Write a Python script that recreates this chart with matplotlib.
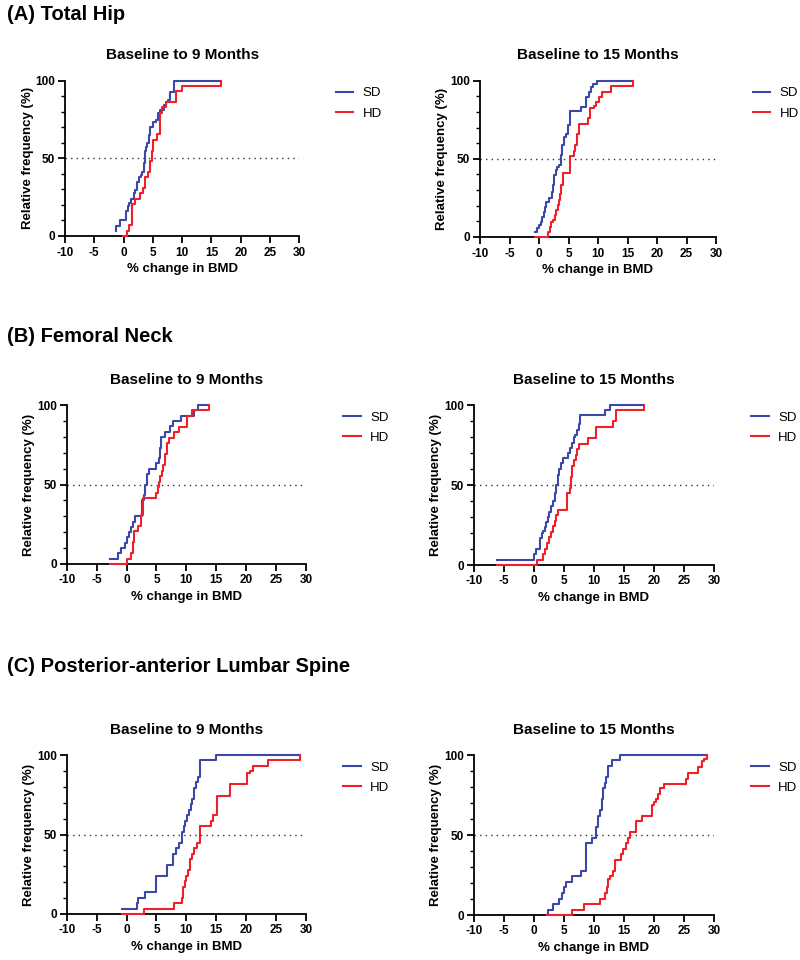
import matplotlib
matplotlib.use('Agg')
import matplotlib.pyplot as plt
from matplotlib.ticker import MultipleLocator

plt.rcParams['font.family'] = ['Liberation Sans', 'DejaVu Sans']

# ---------------- data (cumulative relative frequency, %) ----------------
groups = ['SD', 'HD']
section_titles = ['(A) Total Hip', '(B) Femoral Neck', '(C) Posterior-anterior Lumbar Spine']
panel_titles = ['Baseline to 9 Months', 'Baseline to 15 Months']
x_ticks = [-10, -5, 0, 5, 10, 15, 20, 25, 30]
x_tick_labels = ['-10', '-5', '0', '5', '10', '15', '20', '25', '30']
y_ticks = [0, 50, 100]
y_tick_labels = ['0', '50', '100']

# (A) Total Hip, 9 months
a9_sd_x = [-1.35, -1.25, -0.6, 0.45, 0.75, 1.0, 1.3, 1.75, 2.0, 2.35, 2.6, 2.9, 3.2, 3.45, 3.6, 3.85, 4.05, 4.3,
           4.55, 5.0, 5.55, 5.85, 6.25, 6.9, 7.25, 7.55, 7.95, 8.6, 16.6]
a9_sd_y = [3.3, 6.7, 10, 16, 19, 21, 24, 27.5, 29.6, 35, 38, 39.5, 41.5, 47, 54.5, 57.5, 60, 65,
           70.5, 73.5, 74.5, 79, 81, 84.5, 86.5, 87.5, 93, 100, 100]
a9_hd_x = [-0.15, 0.65, 1.0, 1.5, 2.0, 2.8, 3.25, 3.7, 4.2, 4.5, 4.8, 5.0, 5.7, 6.2, 6.6, 7.2, 8.95, 9.9, 16.6]
a9_hd_y = [0, 3.4, 6.9, 20.7, 24.1, 27.6, 31, 37.9, 41.4, 48.3, 55, 62, 65.5, 79.3, 82.8, 86.2, 93.1, 96.6, 100]

# (A) Total Hip, 15 months
a15_sd_x = [-0.65, -0.35, 0.0, 0.3, 0.55, 0.8, 1.0, 1.25, 1.7, 2.25, 2.4, 2.55, 2.85, 3.1, 3.4, 3.65, 3.9, 4.2,
            4.65, 4.95, 5.25, 7.1, 8.05, 8.45, 8.8, 9.1, 9.75, 16.0]
a15_sd_y = [3.2, 5.3, 7.5, 9.6, 12.8, 16, 19, 22.4, 24.6, 28.8, 33, 39.5, 42.7, 44.9, 46, 52.4, 58.8, 64,
            66, 71.6, 80.6, 83.3, 89.7, 93, 96, 98, 100, 100]
a15_hd_x = [-0.65, 1.55, 1.8, 2.0, 2.4, 2.7, 2.95, 3.15, 3.35, 3.55, 3.8, 4.1, 5.2, 5.9, 6.1, 6.4, 6.7, 8.3,
            8.7, 9.3, 9.7, 10.1, 10.6, 12.2, 16.0]
a15_hd_y = [0, 3.2, 6.5, 9.7, 11, 14, 17, 20.5, 23.5, 27.5, 33, 41, 51.5, 55, 59, 66, 72.5, 76,
            82.5, 83.5, 86.5, 89.5, 93, 96.5, 100]

# (B) Femoral Neck, 9 months
b9_sd_x = [-2.75, -1.5, -1.0, -0.25, 0.1, 0.45, 0.75, 1.0, 1.4, 1.75, 2.55, 2.85, 3.15, 3.45, 3.8, 5.0, 5.4,
           5.6, 5.8, 6.4, 7.3, 7.8, 9.1, 11.2, 12.0, 13.8]
b9_sd_y = [3.3, 6.7, 10, 13.3, 16.7, 20, 23.3, 26.7, 30, 30.5, 40, 43.3, 50, 56.7, 60, 63.3, 66.7,
           73, 80, 83.3, 86.7, 90, 93.3, 96.7, 100, 100]
b9_hd_x = [-2.75, 0.05, 0.75, 1.0, 1.2, 1.9, 2.4, 2.7, 4.9, 5.2, 5.4, 5.6, 5.9, 6.1, 6.4, 6.7, 7.1, 8.0,
           8.7, 10.1, 10.9, 13.8]
b9_hd_y = [0, 3.4, 6.9, 13.8, 20.7, 24.1, 31, 41.4, 44.8, 48.3, 51.7, 55.2, 58.6, 62.1, 69, 75.9, 79.3, 82.8,
           86.2, 93.1, 96.6, 100]

# (B) Femoral Neck, 15 months
b15_sd_x = [-6.1, 0.0, 0.3, 1.0, 1.3, 1.55, 1.85, 2.05, 2.3, 2.55, 2.85, 3.2, 3.45, 3.7, 3.95, 4.2, 4.45, 4.9,
            5.7, 6.0, 6.3, 6.6, 6.9, 7.2, 7.45, 7.7, 11.8, 12.6, 18.3]
b15_sd_y = [3.3, 6.7, 10, 16.7, 20, 21, 24, 27, 30, 33, 37, 40, 45, 50, 56.5, 60, 63.5, 67,
            70, 73, 76.5, 80, 81.5, 84.5, 88, 93.5, 96.7, 100, 100]
b15_hd_x = [-6.1, 0.45, 1.55, 1.85, 2.1, 2.55, 2.85, 3.15, 3.45, 3.7, 4.05, 5.45, 6.0, 6.15, 6.3, 6.6, 7.0,
            7.2, 7.55, 9.05, 10.3, 13.2, 13.7, 18.3]
b15_hd_y = [0, 3.4, 6.9, 10.3, 13.8, 17.2, 20.7, 24.1, 27.6, 31, 34.5, 44.8, 48.3, 55.2, 62.1, 65.5, 69,
            72.4, 75.9, 79.3, 86.2, 89.7, 96.6, 100]

# (C) PA Lumbar Spine, 9 months
c9_sd_x = [-0.75, 1.7, 2.0, 3.1, 5.0, 6.8, 7.8, 8.3, 8.75, 9.2, 9.55, 9.85, 10.1, 10.4, 10.7, 10.95, 11.2,
           11.6, 11.9, 12.3, 14.9, 29.0]
c9_sd_y = [3.4, 6.9, 10.3, 13.8, 24.1, 31, 37.9, 41.4, 44.8, 51.7, 55.2, 58.6, 62.1, 65.5, 69, 72.4, 79.3,
           82.8, 86.2, 96.6, 100, 100]
c9_hd_x = [-0.75, 3.0, 8.0, 9.3, 9.5, 9.7, 10.0, 10.3, 10.6, 10.9, 11.3, 11.7, 12.2, 14.1, 14.4, 15.2, 17.3,
           20.2, 20.6, 21.1, 23.7, 29.0]
c9_hd_y = [0, 3.4, 6.9, 10.3, 17.2, 20.7, 24.1, 27.6, 34.5, 37.9, 41.4, 44.8, 55.2, 58.6, 62.1, 74.1, 81.6,
           88.7, 90, 93, 96.6, 100]

# (C) PA Lumbar Spine, 15 months
c15_sd_x = [2.2, 2.25, 3.1, 4.2, 4.6, 5.0, 5.3, 6.3, 7.9, 8.6, 9.6, 10.4, 10.7, 11.0, 11.3, 11.55, 11.75, 12.0,
            12.4, 13.0, 14.3, 28.8]
c15_sd_y = [0, 3.4, 6.9, 10.3, 13.8, 17.2, 20.7, 24.1, 27.6, 44.8, 48.3, 55.2, 62.1, 65.5, 72.4, 79.3, 82.8, 86.2,
            93.1, 96.6, 100, 100]
c15_hd_x = [2.2, 6.3, 8.3, 11.0, 11.8, 12.1, 12.4, 12.7, 13.1, 13.5, 14.5, 14.9, 15.3, 15.6, 16.0, 17.0, 18.0,
            19.7, 20.0, 20.3, 20.7, 21.0, 21.7, 25.4, 25.7, 27.4, 28.0, 28.3, 28.8]
c15_hd_y = [0, 3.4, 6.9, 10.3, 13.8, 17.2, 22.4, 24.1, 27.6, 34.5, 37.9, 41.4, 44.8, 48.3, 51.7, 58.6, 62.1,
            69, 70.5, 72.4, 75.9, 79.3, 81.6, 85, 89, 92.7, 96, 97.5, 100]

# ---------------- layout ----------------
W, H = 800, 960
BLUE = '#3B48A8'
RED = '#F0202A'

fig = plt.figure(figsize=(W / 100, H / 100), dpi=100)
fig.patch.set_facecolor('white')

section_y = [14, 337, 667]
title_y = [55, 380, 730]
boxes = [  # left, right, top, bottom in pixels
    [(65, 299.3, 80.7, 236), (480, 716, 80.7, 236.7)],
    [(66.7, 306, 405, 564), (474, 714, 405, 565)],
    [(66.7, 306, 755, 914), (474, 714, 755, 915)],
]
series = [
    [((a9_sd_x, a9_sd_y), (a9_hd_x, a9_hd_y)), ((a15_sd_x, a15_sd_y), (a15_hd_x, a15_hd_y))],
    [((b9_sd_x, b9_sd_y), (b9_hd_x, b9_hd_y)), ((b15_sd_x, b15_sd_y), (b15_hd_x, b15_hd_y))],
    [((c9_sd_x, c9_sd_y), (c9_hd_x, c9_hd_y)), ((c15_sd_x, c15_sd_y), (c15_hd_x, c15_hd_y))],
]

for r in range(3):
    fig.text(7 / W, 1 - section_y[r] / H, section_titles[r], fontsize=14.5, fontweight='bold',
             ha='left', va='center')
    for c in range(2):
        l, rr, t, b = boxes[r][c]
        ax = fig.add_axes([l / W, 1 - b / H, (rr - l) / W, (b - t) / H])
        ax.set_facecolor('none')
        (sx, sy), (hx, hy) = series[r][c]
        ax.axhline(50, color='#333333', lw=1.0, ls=(0, (1, 3)), zorder=1)
        ax.step(sx, sy, where='post', color=BLUE, lw=1.5, label=groups[0], clip_on=False, zorder=4)
        ax.step(hx, hy, where='post', color=RED, lw=1.5, label=groups[1], clip_on=False, zorder=5)
        ax.set_xlim(-10, 30)
        ax.set_ylim(0, 100)
        for s in ['top', 'right']:
            ax.spines[s].set_visible(False)
        for s in ['left', 'bottom']:
            ax.spines[s].set_linewidth(1.3)
            ax.spines[s].set_zorder(3)
        ax.set_xticks(x_ticks)
        ax.set_xticklabels(x_tick_labels)
        ax.set_yticks(y_ticks)
        ax.set_yticklabels(y_tick_labels)
        ax.yaxis.set_minor_locator(MultipleLocator(10))
        ax.tick_params(axis='both', which='major', length=5, width=1.3, labelsize=8.5, pad=2)
        ax.tick_params(axis='x', which='major', pad=3 if r == 0 else 2)
        ax.tick_params(axis='y', which='minor', length=3, width=1.0)
        for lab in ax.get_xticklabels() + ax.get_yticklabels():
            lab.set_fontweight('bold')
        ax.set_xlabel('% change in BMD', fontsize=9.5, fontweight='bold', va='center')
        ax.xaxis.set_label_coords(0.5, -33 / (b - t))
        ax.set_ylabel('Relative frequency (%)', fontsize=9.5, fontweight='bold', va='center')
        ax.yaxis.set_label_coords(-37.5 / (rr - l), 0.5)
        fig.text((l + rr) / 2 / W, 1 - title_y[r] / H, panel_titles[c], fontsize=11,
                 fontweight='bold', ha='center', va='center')
        ax.legend(loc='upper left', bbox_to_anchor=(1.155, 1 - 6.5 / (b - t)), frameon=False,
                  fontsize=9.5, handlelength=1.35, handletextpad=0.7, labelspacing=0.6,
                  borderpad=0, borderaxespad=0)

fig.savefig('out.png', dpi=100, facecolor='white')
